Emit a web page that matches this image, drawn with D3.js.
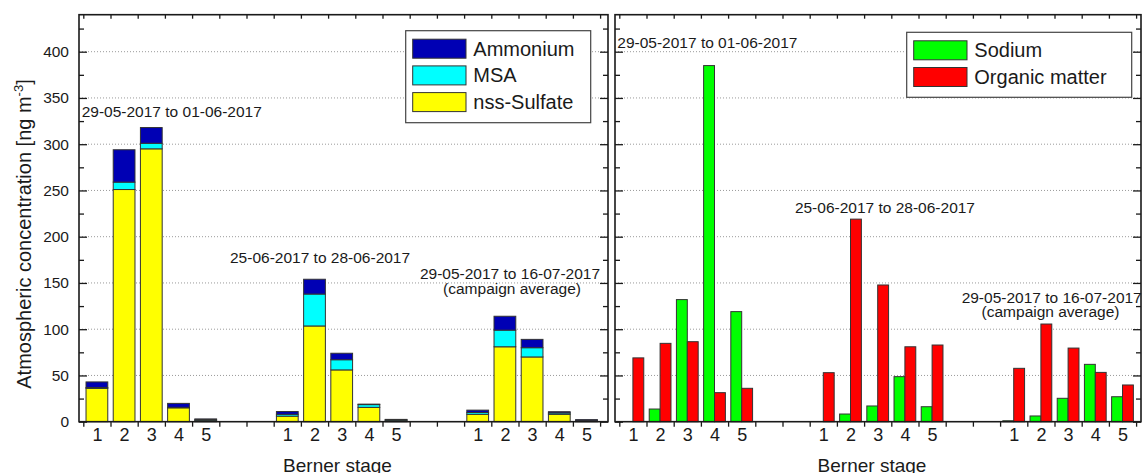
<!DOCTYPE html>
<html lang="en">
  <head>
    <meta charset="UTF-8" />
    <title>Berner stage concentrations</title>
    <script src="https://cdn.jsdelivr.net/npm/d3@7"></script>
    <style>
      body {
        margin: 0;
        background: white;
      }
      svg {
        font-family: "Liberation Sans", Arial, sans-serif;
        display: block;
      }
    </style>
  </head>
  <body>
    <script>
      // stages 1..5 repeated for three sampling periods
      const stages = [1, 2, 3, 4, 5];
      const periods = [
        "29-05-2017 to 01-06-2017",
        "25-06-2017 to 28-06-2017",
        "29-05-2017 to 16-07-2017"
      ];
      // left panel (stacked), ng m-3, period by period
      const nssSulfate = [36, 251, 295, 15, 1.5, 6, 103.5, 56, 15.5, 1.5, 8, 81, 70, 8, 1.2];
      const msa = [1, 8, 6, 0.5, 0.5, 2, 34.5, 11, 3, 0.5, 2, 18, 10, 1.5, 0.5];
      const ammonium = [6, 35, 17, 4.3, 1, 3, 16, 7, 0.5, 0.5, 2.5, 15, 9, 1.3, 0.5];
      // right panel (grouped)
      const sodium = [0, 13.7, 132, 385, 119, 0, 8.3, 17, 48.7, 16.2, 1, 6.2, 25.3, 62, 27];
      const organicMatter = [69, 84.7, 86.5, 31.4, 36.1, 53, 219, 147.8, 81, 82.9, 57.7, 105.6, 79.6, 53.3, 39.7];

      const leftSeries = ["nss-Sulfate", "MSA", "Ammonium"];
      const leftColors = { "nss-Sulfate": "#ffff00", MSA: "#00ffff", Ammonium: "#0000b4" };
      const rightSeries = ["Sodium", "Organic matter"];
      const rightColors = { Sodium: "#00ff00", "Organic matter": "#ff0000" };

      const width = 1144;
      const height = 473;
      const step = 27.2;
      const ink = "#1a1a1a";

      const svg = d3
        .select("body")
        .append("svg")
        .attr("width", width)
        .attr("height", height);

      const y = d3.scaleLinear().domain([0, 440]).range([421.7, 14.7]);

      const panels = [
        { x0: 79, x1: 608, k0: 83.3, labels: true },
        { x0: 615, x1: 1141, k0: 619.3, labels: false }
      ];
      panels.forEach(p => {
        p.x = d3.scaleLinear().domain([0, 19]).range([p.k0, p.k0 + 19 * step]);
      });

      // slot index of period g, stage s
      const slot = (g, s) => g * 7 + (s - 1);
      const rows = [];
      periods.forEach((per, g) =>
        stages.forEach((s, i) => {
          const j = g * 5 + i;
          rows.push({
            slot: slot(g, s),
            stage: s,
            "nss-Sulfate": nssSulfate[j],
            MSA: msa[j],
            Ammonium: ammonium[j],
            Sodium: sodium[j],
            "Organic matter": organicMatter[j]
          });
        })
      );

      // grid
      panels.forEach(p => {
        svg
          .append("g")
          .selectAll("line")
          .data(d3.range(50, 401, 50))
          .join("line")
          .attr("x1", p.x0)
          .attr("x2", p.x1)
          .attr("y1", d => y(d))
          .attr("y2", d => y(d))
          .attr("stroke", "#9a9a9a")
          .attr("stroke-width", 1)
          .attr("stroke-dasharray", "1,2");
      });

      // left panel stacked bars
      const L = panels[0];
      const stacked = d3.stack().keys(leftSeries)(rows);
      svg
        .append("g")
        .selectAll("g")
        .data(stacked)
        .join("g")
        .attr("fill", d => leftColors[d.key])
        .selectAll("rect")
        .data(d => d)
        .join("rect")
        .attr("x", d => L.x(d.data.slot + 0.1))
        .attr("width", L.x(0.8) - L.x(0))
        .attr("y", d => y(d[1]))
        .attr("height", d => y(d[0]) - y(d[1]))
        .attr("stroke", "#333")
        .attr("stroke-width", 1);

      // right panel grouped bars
      const R = panels[1];
      const inner = d3
        .scaleBand()
        .domain(rightSeries)
        .range([0.1, 0.9]);
      svg
        .append("g")
        .selectAll("g")
        .data(rightSeries)
        .join("g")
        .attr("fill", k => rightColors[k])
        .selectAll("rect")
        .data(k => rows.map(r => ({ key: k, slot: r.slot, v: r[k] })))
        .join("rect")
        .attr("x", d => R.x(d.slot + inner(d.key)))
        .attr("width", R.x(inner.bandwidth()) - R.x(0))
        .attr("y", d => y(d.v))
        .attr("height", d => y(0) - y(d.v))
        .attr("stroke", "#333")
        .attr("stroke-width", 1)
        .attr("display", d => (d.v > 0 ? null : "none"));

      // axes and frames
      const styleAxis = g => {
        g.select(".domain").remove();
        g.selectAll(".tick line").attr("stroke", ink).attr("stroke-width", 1.3);
        g.selectAll("text").attr("fill", ink);
      };
      panels.forEach(p => {
        const bounds = d3.range(0, 20);
        svg
          .append("g")
          .attr("transform", `translate(0,${y(0)})`)
          .call(d3.axisBottom(p.x).tickValues(bounds).tickSize(5).tickFormat(""))
          .call(styleAxis);
        svg
          .append("g")
          .attr("transform", `translate(0,${y(440)})`)
          .call(d3.axisBottom(p.x).tickValues(bounds).tickSize(4).tickFormat(""))
          .call(styleAxis);
        svg
          .append("g")
          .attr("transform", `translate(0,${y(0)})`)
          .call(
            d3
              .axisBottom(p.x)
              .tickValues(rows.map(r => r.slot + 0.5))
              .tickSize(0)
              .tickPadding(7)
              .tickFormat((d, i) => rows[i].stage)
          )
          .call(styleAxis)
          .selectAll("text")
          .attr("font-size", 18);

        const major = d3.range(0, 401, 50);
        const minor = d3.range(25, 440, 50);
        svg
          .append("g")
          .attr("transform", `translate(${p.x0},0)`)
          .call(
            d3
              .axisLeft(y)
              .tickValues(major)
              .tickSizeInner(-8)
              .tickSizeOuter(0)
              .tickPadding(10)
              .tickFormat(p.labels ? d3.format("d") : "")
          )
          .call(styleAxis)
          .selectAll("text")
          .attr("font-size", 15.5);
        svg
          .append("g")
          .attr("transform", `translate(${p.x0},0)`)
          .call(d3.axisLeft(y).tickValues(minor).tickSize(-5).tickFormat(""))
          .call(styleAxis);
        svg
          .append("g")
          .attr("transform", `translate(${p.x1},0)`)
          .call(d3.axisRight(y).tickValues(major).tickSize(-8).tickFormat(""))
          .call(styleAxis);
        svg
          .append("g")
          .attr("transform", `translate(${p.x1},0)`)
          .call(d3.axisRight(y).tickValues(minor).tickSize(-5).tickFormat(""))
          .call(styleAxis);

        svg
          .append("rect")
          .attr("x", p.x0)
          .attr("y", y(440))
          .attr("width", p.x1 - p.x0)
          .attr("height", y(0) - y(440))
          .attr("fill", "none")
          .attr("stroke", ink)
          .attr("stroke-width", 1.6);

        svg
          .append("text")
          .attr("x", (p.x0 + p.x1) / 2 - 6)
          .attr("y", 472)
          .attr("text-anchor", "middle")
          .attr("font-size", 19)
          .attr("fill", ink)
          .text("Berner stage");
      });

      // y label
      const yl = svg
        .append("text")
        .attr("transform", "translate(30.5,234) rotate(-90)")
        .attr("text-anchor", "middle")
        .attr("font-size", 20)
        .attr("fill", ink);
      yl.append("tspan").text("Atmospheric concentration [ng m");
      yl.append("tspan").attr("font-size", 13).attr("dy", -8).text("-3");
      yl.append("tspan").attr("dy", 8).text("]");

      // period annotations
      const notes = [
        { x: 81.7, y: 117, anchor: "start", t: periods[0] },
        { x: 230, y: 263, anchor: "start", t: periods[1] },
        { x: 510, y: 279, anchor: "middle", t: periods[2] },
        { x: 512, y: 293.5, anchor: "middle", t: "(campaign average)" },
        { x: 617.3, y: 48, anchor: "start", t: periods[0] },
        { x: 975, y: 212.5, anchor: "end", t: periods[1] },
        { x: 1051.7, y: 302.5, anchor: "middle", t: periods[2] },
        { x: 1050.5, y: 317, anchor: "middle", t: "(campaign average)" }
      ];
      svg
        .append("g")
        .selectAll("text")
        .data(notes)
        .join("text")
        .attr("x", d => d.x)
        .attr("y", d => d.y)
        .attr("text-anchor", d => d.anchor)
        .attr("font-size", 15.5)
        .attr("fill", ink)
        .text(d => d.t);

      // legends
      const legend = (x, yTop, w, h, keys, colors) => {
        const g = svg.append("g");
        g.append("rect")
          .attr("x", x)
          .attr("y", yTop)
          .attr("width", w)
          .attr("height", h)
          .attr("fill", "white")
          .attr("stroke", "#444")
          .attr("stroke-width", 1.2);
        keys.forEach((k, i) => {
          const ry = yTop + 8.5 + i * 26.7;
          g.append("rect")
            .attr("x", x + 7)
            .attr("y", ry)
            .attr("width", 53.3)
            .attr("height", 19)
            .attr("fill", colors[k])
            .attr("stroke", "#333")
            .attr("stroke-width", 1);
          g.append("text")
            .attr("x", x + 67.6)
            .attr("y", ry + 16.5)
            .attr("font-size", 20)
            .attr("fill", ink)
            .text(k);
        });
      };
      legend(405.7, 30.7, 185, 92, ["Ammonium", "MSA", "nss-Sulfate"], leftColors);
      legend(906.7, 32.3, 225, 65, rightSeries, rightColors);
    </script>
  </body>
</html>
